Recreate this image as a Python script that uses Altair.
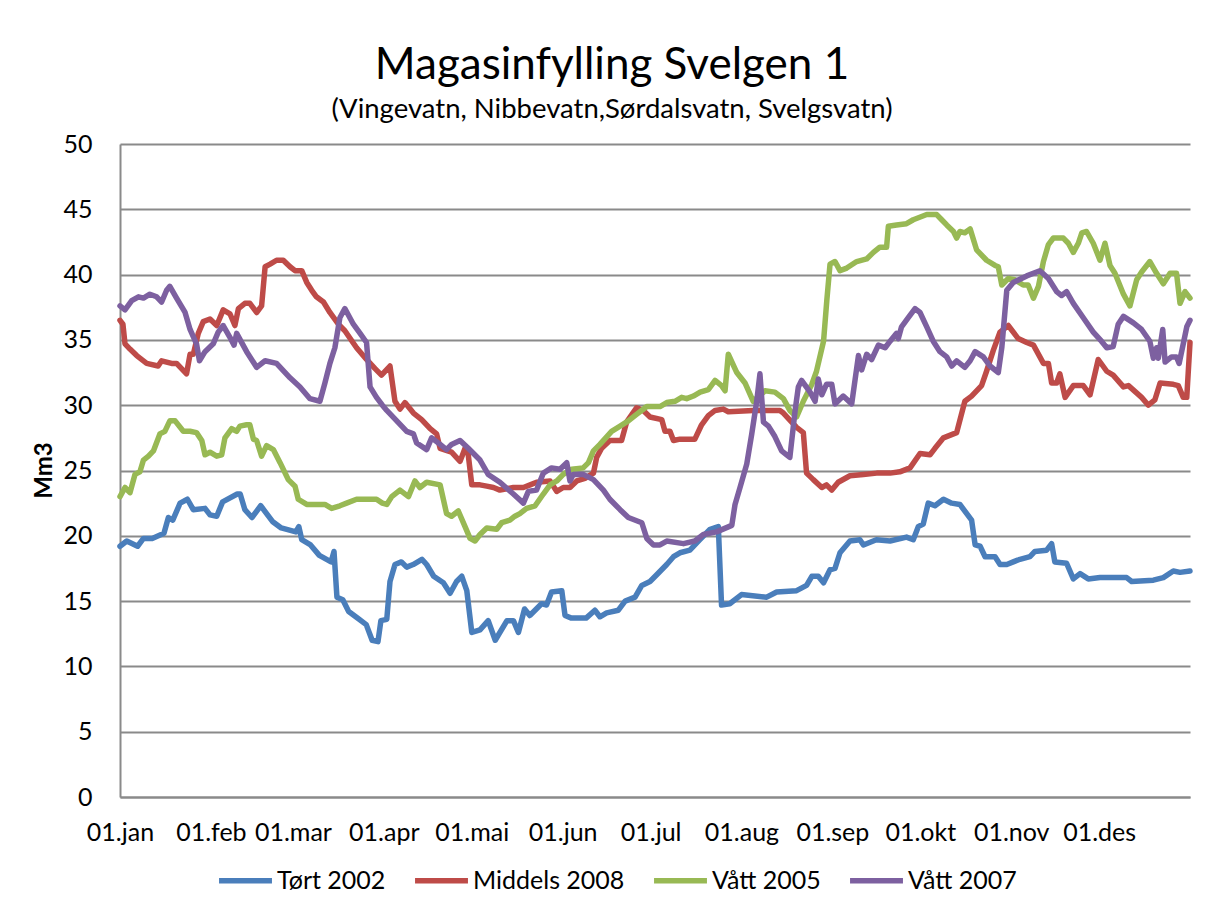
import altair as alt
import pandas as pd

month_days = [0, 31, 59, 90, 120, 151, 181, 212, 243, 273, 304, 334]
month_labels = ["01.jan", "01.feb", "01.mar", "01.apr", "01.mai", "01.jun",
                "01.jul", "01.aug", "01.sep", "01.okt", "01.nov", "01.des"]
y_ticks = [0, 5, 10, 15, 20, 25, 30, 35, 40, 45, 50]

series_names = ["Tørt 2002", "Middels 2008", "Vått 2005", "Vått 2007"]
series_colors = ["#4A7EBB", "#BE4B48", "#98B954", "#7D60A0"]

tort_days = [0, 2.3, 6, 8, 11, 15, 16.5, 18, 20.5, 23, 25, 29, 30.7, 33, 35, 40, 41, 42.6, 45, 48, 52, 55, 60, 61, 62, 65, 68, 72, 73, 74, 76, 78, 81, 84, 86, 88, 89, 91, 92.1, 93.8, 96, 97.8, 100, 103, 104.6, 107, 110.3, 112.6, 114.8, 116.6, 118.3, 120, 122.8, 125.6, 128, 132, 134.2, 135.9, 138, 139.8, 143.8, 145.5, 147.2, 150.7, 151.8, 154, 159, 162, 163.7, 166, 170, 172.3, 175.7, 178, 180.8, 183, 186.5, 188.8, 191, 194.4, 197.8, 201.3, 204.1, 205.2, 208, 212, 220.6, 224, 230.8, 234.2, 236, 238.2, 240, 242.2, 243.9, 245.6, 249, 252.4, 253.6, 258, 262.7, 268.3, 270.6, 272.3, 274, 275.7, 278, 280.9, 283.7, 286.5, 290.5, 291.7, 293.4, 295.1, 298.5, 300.2, 302.5, 304.7, 307, 310.4, 312.1, 316.1, 317.8, 318.9, 322.9, 325.2, 327.5, 330.3, 334.3, 343.4, 345.1, 352.5, 355.9, 359.3, 361.6, 365]
tort_vals = [19.2, 19.6, 19.2, 19.8, 19.8, 20.2, 21.4, 21.2, 22.5, 22.8, 22.0, 22.1, 21.6, 21.5, 22.6, 23.2, 23.2, 22.0, 21.4, 22.3, 21.1, 20.6, 20.3, 20.7, 19.7, 19.3, 18.5, 18.0, 18.8, 15.3, 15.1, 14.2, 13.7, 13.2, 12.0, 11.9, 13.5, 13.6, 16.5, 17.8, 18.0, 17.6, 17.8, 18.2, 17.8, 16.9, 16.4, 15.6, 16.5, 16.9, 15.8, 12.6, 12.8, 13.5, 12.0, 13.5, 13.5, 12.6, 14.4, 13.9, 14.8, 14.7, 15.7, 15.8, 13.9, 13.7, 13.7, 14.3, 13.8, 14.1, 14.3, 15.0, 15.3, 16.2, 16.5, 17.0, 17.8, 18.4, 18.7, 18.9, 19.7, 20.5, 20.7, 14.7, 14.8, 15.5, 15.3, 15.7, 15.8, 16.2, 16.9, 16.9, 16.4, 17.4, 17.5, 18.7, 19.6, 19.7, 19.3, 19.7, 19.6, 19.9, 19.7, 20.7, 20.9, 22.5, 22.3, 22.8, 22.5, 22.4, 21.2, 19.3, 19.2, 18.4, 18.4, 17.8, 17.8, 18.0, 18.2, 18.4, 18.8, 18.9, 19.4, 18.0, 17.9, 16.7, 17.1, 16.7, 16.8, 16.8, 16.5, 16.6, 16.8, 17.3, 17.2, 17.3]

middels_days = [0, 1, 1.7, 3.4, 5.7, 9.1, 13, 14.2, 17.6, 19.3, 21, 22.7, 23.9, 25, 26.7, 28.4, 30.7, 33, 35.2, 37.5, 39.2, 40.4, 42.6, 44.3, 46.6, 48.3, 49.5, 51.2, 53.4, 55.7, 58, 59.7, 62, 63.7, 65.4, 67, 69.4, 71.6, 74.5, 76.7, 80.7, 84.1, 87, 89.2, 92.1, 93.8, 95.5, 97.2, 100.1, 102.9, 105.8, 108, 109.2, 113.1, 116, 117.7, 118.8, 120, 122.8, 125.1, 127.4, 129.6, 134.2, 137.6, 139.9, 142.1, 146.7, 149, 151.2, 153.5, 155.8, 158.6, 161.5, 162.6, 164.3, 167.1, 171.1, 172.8, 176.2, 178.5, 180.8, 184.8, 185.9, 187.6, 188.8, 191, 196.1, 198.4, 200.7, 203, 205.8, 207.5, 216, 225.1, 226.3, 230.8, 233.1, 234.2, 236.5, 239.4, 241, 242.8, 245, 249, 253.6, 258.1, 262.7, 266, 269.5, 272.9, 276.3, 278, 280.9, 285.4, 288.2, 290.5, 293.9, 295.6, 297.9, 300.2, 303, 306.4, 309.3, 311.6, 315, 316.7, 317.8, 319.5, 320.6, 322.4, 325.2, 328.6, 330.9, 333.7, 336.6, 338.8, 342.3, 344, 348.5, 350.8, 353, 354.8, 359.3, 361, 362.7, 363.9, 365]
middels_vals = [36.5, 36.2, 34.7, 34.3, 33.8, 33.2, 33.0, 33.4, 33.2, 33.2, 32.8, 32.4, 33.9, 33.9, 35.5, 36.4, 36.6, 36.1, 37.3, 37.0, 36.1, 37.4, 37.8, 37.8, 37.1, 37.6, 40.6, 40.8, 41.1, 41.1, 40.6, 40.3, 40.3, 39.4, 38.8, 38.3, 37.9, 37.1, 36.2, 35.7, 34.4, 33.5, 32.8, 32.3, 33.0, 30.3, 29.7, 30.2, 29.4, 28.9, 28.2, 27.8, 26.7, 26.4, 25.7, 26.7, 26.2, 23.9, 23.9, 23.8, 23.7, 23.5, 23.7, 23.7, 23.9, 24.1, 24.2, 23.4, 23.7, 23.7, 24.2, 24.4, 24.8, 26.0, 26.7, 27.3, 27.3, 28.7, 29.8, 29.6, 29.1, 28.9, 28.0, 28.0, 27.3, 27.4, 27.4, 28.5, 29.2, 29.6, 29.7, 29.5, 29.6, 29.6, 29.4, 28.3, 27.9, 24.8, 24.3, 23.7, 23.9, 23.5, 24.1, 24.6, 24.7, 24.8, 24.8, 24.9, 25.2, 26.3, 26.2, 26.7, 27.5, 27.9, 30.3, 30.7, 31.5, 32.6, 34.2, 35.6, 36.1, 35.1, 34.8, 34.6, 33.2, 33.2, 31.7, 31.7, 32.4, 30.6, 31.5, 31.5, 30.8, 33.5, 32.6, 32.3, 31.4, 31.5, 30.6, 30.0, 30.4, 31.7, 31.6, 31.5, 30.6, 30.6, 34.8]

vatt05_days = [0, 1.7, 3.4, 5.1, 6.8, 8, 9.7, 11.4, 13.6, 15.3, 17, 18.8, 21.6, 23.9, 26.1, 27.9, 29, 30.7, 33, 34.7, 35.8, 38.1, 39.8, 40.9, 43.2, 44.3, 45.5, 46.6, 48.3, 50, 52.3, 54.6, 57.4, 59.7, 60.8, 63.7, 69.9, 72.2, 75, 77.3, 80.7, 85.3, 87.5, 89.5, 91, 92.7, 95.5, 98.4, 100.6, 102.3, 104.6, 109.2, 111.4, 113.1, 115.4, 117.7, 119.4, 121.1, 122.8, 125.1, 128.5, 130.2, 133, 134.7, 136.4, 138.7, 141.6, 144.4, 146.7, 149, 151.2, 154.1, 158, 159.8, 161.5, 163.7, 167.7, 170.6, 173.4, 176.2, 179.7, 184.2, 186.5, 189.3, 191.6, 193.3, 195.6, 197.9, 200.7, 203, 205.2, 206.4, 207.5, 210.4, 213.2, 216, 220, 223.4, 226.3, 228.5, 230.8, 233.1, 236, 237.6, 240, 241.1, 242.2, 243.9, 245.6, 247.9, 251.3, 254.7, 257, 259.2, 261.5, 262.1, 264.9, 268.3, 270.6, 275.2, 278.6, 280.3, 282, 284.3, 285.4, 286.5, 288.2, 290, 292.2, 295.6, 298.5, 299.6, 300.8, 303, 305.3, 308.1, 309.8, 311.6, 313.3, 315, 316.7, 318.4, 321.8, 323.5, 325.2, 326.9, 328.1, 329.7, 332, 334.3, 336, 337.7, 339.4, 342.3, 344.5, 346.8, 348.5, 351.3, 353.6, 355.9, 358.2, 360.4, 361.6, 363.3, 365]
vatt05_vals = [23.0, 23.7, 23.3, 24.7, 24.9, 25.8, 26.1, 26.5, 27.8, 28.0, 28.8, 28.8, 28.0, 28.0, 27.9, 27.3, 26.2, 26.4, 26.1, 26.2, 27.5, 28.2, 28.0, 28.4, 28.5, 28.5, 27.4, 27.3, 26.1, 26.9, 26.6, 25.6, 24.3, 23.8, 22.8, 22.4, 22.4, 22.1, 22.3, 22.5, 22.8, 22.8, 22.8, 22.5, 22.4, 23.0, 23.5, 23.0, 24.2, 23.7, 24.1, 23.9, 21.7, 21.5, 21.9, 20.7, 19.8, 19.6, 20.1, 20.6, 20.5, 21.0, 21.2, 21.5, 21.7, 22.1, 22.3, 23.2, 23.9, 24.2, 24.7, 25.1, 25.2, 25.6, 26.5, 27.0, 28.0, 28.4, 28.8, 29.3, 29.9, 29.9, 30.2, 30.3, 30.6, 30.5, 30.7, 31.0, 31.2, 31.9, 31.5, 31.1, 33.9, 32.5, 31.7, 30.3, 31.1, 31.0, 30.5, 29.6, 29.1, 30.3, 31.6, 32.6, 34.9, 38.0, 40.8, 41.0, 40.3, 40.5, 41.0, 41.2, 41.7, 42.1, 42.1, 43.7, 43.8, 43.9, 44.2, 44.6, 44.6, 44.2, 43.8, 43.3, 42.8, 43.3, 43.2, 43.5, 41.9, 41.1, 40.7, 40.6, 39.2, 39.7, 39.6, 39.2, 39.2, 38.2, 39.1, 41.0, 42.3, 42.8, 42.8, 42.4, 41.7, 42.4, 43.2, 43.3, 42.4, 41.1, 42.4, 40.7, 40.1, 38.5, 37.6, 39.6, 40.2, 41.0, 40.1, 39.3, 40.1, 40.1, 37.8, 38.7, 38.2]

vatt07_days = [0, 1.7, 4, 6.3, 8, 10.2, 12.5, 14.2, 15.9, 17, 19.3, 22.2, 23.9, 26.1, 27.1, 29, 31.8, 33.5, 35.2, 37.5, 38.9, 39.8, 43.2, 46.6, 49.5, 53.4, 58, 61.4, 64.8, 68.2, 69.9, 71.6, 73.3, 75, 76.7, 79.6, 81.9, 84.1, 85.3, 87.5, 89.5, 91, 94.4, 97.8, 100.1, 101.2, 104.6, 106.3, 109.2, 111.4, 113.1, 116, 118.8, 122.8, 125.6, 129.6, 134.2, 137.6, 139.3, 142.1, 144.4, 147.2, 150.1, 152.4, 153.5, 154.6, 158, 161.5, 164.9, 167.1, 170.6, 173.4, 178, 179.7, 182, 184.2, 186.5, 192.2, 196.1, 199, 203.5, 208.7, 209.8, 211.5, 213.8, 215.5, 217.2, 218.3, 219.5, 221.2, 223.4, 225.7, 227.4, 228.5, 230.3, 231.4, 232.5, 235.4, 237.1, 238.2, 239.4, 241, 242.8, 243.9, 246.7, 249.6, 251.9, 253, 254.7, 256.4, 258.7, 261, 262.7, 264.9, 265.5, 266.6, 268.9, 271.2, 272.9, 275.2, 277.4, 279.7, 282, 283.7, 285.4, 288.2, 290, 291.7, 294.5, 296.8, 299.6, 300.8, 302.5, 304.7, 309.3, 313.8, 316.7, 319.5, 321.2, 322.9, 325.2, 328.6, 332, 334.8, 336.6, 338.8, 340.5, 342.3, 345.7, 348.5, 351.3, 352.5, 353.6, 354.2, 355.7, 356.5, 358.7, 360.4, 361.3, 362.7, 363.9, 365]
vatt07_vals = [37.6, 37.3, 38.0, 38.3, 38.2, 38.5, 38.3, 37.9, 38.8, 39.1, 38.2, 37.1, 35.8, 34.7, 33.4, 34.1, 34.7, 35.6, 36.1, 35.2, 34.6, 35.5, 34.1, 32.9, 33.4, 33.2, 32.1, 31.4, 30.5, 30.3, 31.7, 33.2, 34.4, 36.7, 37.4, 36.2, 35.5, 34.8, 31.4, 30.6, 30.0, 29.6, 28.8, 28.0, 27.8, 27.1, 26.6, 27.5, 27.0, 26.6, 27.0, 27.3, 26.7, 25.8, 24.7, 24.1, 23.2, 22.5, 23.4, 23.5, 24.8, 25.2, 25.1, 25.6, 24.2, 24.7, 24.7, 24.3, 23.5, 22.8, 22.0, 21.4, 21.0, 19.8, 19.3, 19.3, 19.6, 19.4, 19.6, 20.1, 20.3, 20.8, 22.4, 23.7, 25.5, 27.8, 30.3, 32.4, 28.7, 28.4, 27.6, 26.5, 26.2, 26.0, 29.6, 31.4, 31.9, 31.0, 30.3, 32.0, 30.8, 31.6, 31.6, 30.1, 30.7, 30.1, 33.8, 32.7, 33.9, 33.5, 34.6, 34.4, 34.9, 35.5, 35.1, 36.0, 36.7, 37.4, 37.1, 36.0, 34.9, 34.1, 33.7, 33.0, 33.4, 32.9, 33.4, 34.1, 33.7, 33.0, 32.5, 34.4, 38.8, 39.4, 39.9, 40.3, 39.7, 38.7, 38.4, 38.7, 37.8, 36.7, 35.6, 34.9, 34.4, 34.5, 36.2, 36.8, 36.3, 35.8, 34.9, 33.6, 34.4, 33.6, 35.8, 33.3, 33.7, 33.7, 33.2, 34.7, 36.0, 36.5]

frames = []
for name, d, v in [(series_names[0], tort_days, tort_vals),
                   (series_names[1], middels_days, middels_vals),
                   (series_names[2], vatt05_days, vatt05_vals),
                   (series_names[3], vatt07_days, vatt07_vals)]:
    frames.append(pd.DataFrame({"day": d, "value": v, "series": name}))
df = pd.concat(frames, ignore_index=True)

label_expr = " : ".join(f"datum.value == {d} ? '{l}'" for d, l in zip(month_days, month_labels)) + " : ''"

FONT = "Lato"
GRID = "#8A8A8A"

chart = alt.Chart(df).mark_line(strokeWidth=5.5, strokeJoin="round", strokeCap="round").encode(
    x=alt.X("day:Q",
            scale=alt.Scale(domain=[0, 365], nice=False, zero=False),
            axis=alt.Axis(values=month_days, labelExpr=label_expr, title=None, grid=False,
                          ticks=False, domainColor=GRID, domainWidth=2, labelFont=FONT,
                          labelFontSize=25, labelColor="black", labelPadding=23, labelAngle=0,
                          labelOverlap=False, labelFlush=False)),
    y=alt.Y("value:Q",
            scale=alt.Scale(domain=[0, 50], nice=False),
            axis=alt.Axis(values=y_ticks, title="Mm3", titleFont=FONT, titleFontSize=24,
                          titleFontWeight="bold", titleColor="black", titleAngle=-90,
                          titleX=-76, titleY=326, titleAlign="center", titleBaseline="middle",
                          grid=True, gridColor=GRID, gridWidth=2, ticks=False,
                          domainColor=GRID, domainWidth=2, labelFont=FONT, labelFontSize=25,
                          labelColor="black", labelPadding=28, labelOverlap=False)),
    color=alt.Color("series:N",
                    scale=alt.Scale(domain=series_names, range=series_colors),
                    legend=alt.Legend(orient="none", legendX=96, legendY=707,
                                      direction="horizontal", title=None,
                                      symbolType="stroke", symbolSize=2800,
                                      symbolStrokeWidth=5.5, labelFont=FONT,
                                      labelFontSize=25, labelColor="black",
                                      labelOffset=2, columnPadding=18, labelLimit=0)),
    detail="series:N",
).properties(
    width=1070,
    height=653,
    background="white",
    autosize=alt.AutoSizeParams(type="none"),
    padding={"left": 112, "top": 136, "right": 14, "bottom": 110},
    title=alt.TitleParams(
        text="Magasinfylling Svelgen 1",
        subtitle="(Vingevatn, Nibbevatn,Sørdalsvatn, Svelgsvatn)",
        font=FONT, fontSize=44, fontWeight="normal", color="black",
        subtitleFont=FONT, subtitleFontSize=27.5, subtitleColor="black",
        anchor="middle", dx=-43, offset=9, subtitlePadding=8,
    ),
).configure_view(stroke="transparent", strokeWidth=0)

chart.save("out.html", embed_options={"renderer": "svg", "actions": False})
